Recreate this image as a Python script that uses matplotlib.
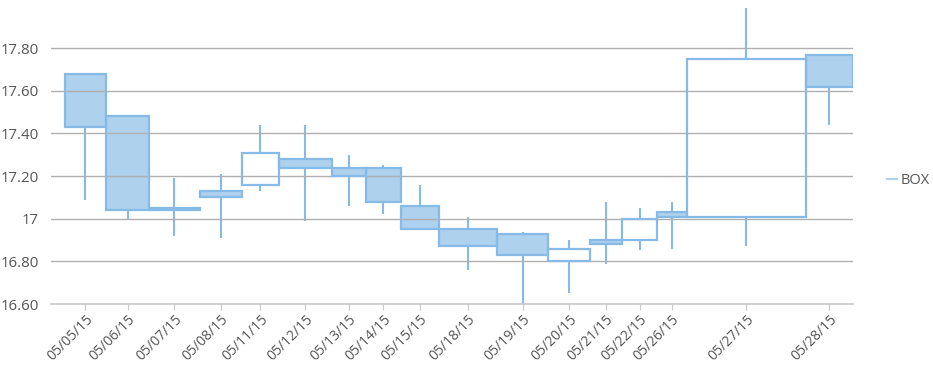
import matplotlib
matplotlib.use("Agg")
import matplotlib.pyplot as plt
from matplotlib.patches import Rectangle
from matplotlib.lines import Line2D
import numpy as np

plt.rcParams['font.family'] = ['Open Sans', 'DejaVu Sans']

dates = ['05/05/15', '05/06/15', '05/07/15', '05/08/15', '05/11/15', '05/12/15',
         '05/13/15', '05/14/15', '05/15/15', '05/18/15', '05/19/15', '05/20/15',
         '05/21/15', '05/22/15', '05/26/15', '05/27/15', '05/28/15']
opens = [17.68, 17.48, 17.05, 17.13, 17.16, 17.28, 17.24, 17.24, 17.06, 16.95,
         16.93, 16.80, 16.90, 16.90, 17.03, 17.01, 17.77]
highs = [17.68, 17.48, 17.19, 17.21, 17.44, 17.44, 17.30, 17.25, 17.16, 17.01,
         16.94, 16.90, 17.08, 17.05, 17.08, 17.99, 17.77]
lows = [17.09, 17.00, 16.92, 16.91, 17.13, 16.99, 17.06, 17.02, 16.95, 16.76,
        16.59, 16.65, 16.79, 16.855, 16.86, 16.87, 17.44]
closes = [17.43, 17.04, 17.04, 17.10, 17.31, 17.24, 17.20, 17.08, 16.95, 16.87,
          16.83, 16.86, 16.88, 17.00, 17.01, 17.75, 17.62]
# box widths (volume)
volumes = [41, 43.3, 50.7, 42, 37.4, 52.6, 34, 35.4, 38, 58, 51.6, 41.7, 32,
           35.3, 29.4, 119.3, 47.3]

edge = '#85bbe6'
fill = '#aed1ee'

fig = plt.figure(figsize=(9.33, 3.66), dpi=100)
ax = fig.add_axes([51 / 933, 1 - 304 / 366, 802 / 933, (304 - 5.6) / 366])

lefts = np.concatenate([[0], np.cumsum(volumes)[:-1]])
centers = lefts + np.array(volumes) / 2

for i in range(len(dates)):
    top = max(opens[i], closes[i])
    bottom = min(opens[i], closes[i])
    # wicks only outside the body
    if highs[i] > top:
        ax.plot([centers[i], centers[i]], [top, highs[i]], color=edge, lw=1.5,
                zorder=1.5, solid_capstyle='butt')
    if lows[i] < bottom:
        ax.plot([centers[i], centers[i]], [lows[i], bottom], color=edge, lw=1.5,
                zorder=1.5, solid_capstyle='butt')
    h = top - bottom
    if closes[i] < opens[i]:
        # fill under the gridlines so they show through
        ax.add_patch(Rectangle((lefts[i], bottom), volumes[i], h, facecolor=fill,
                               edgecolor='none', zorder=1))
    ax.add_patch(Rectangle((lefts[i], bottom), volumes[i], h, facecolor='none',
                           edgecolor=edge, lw=1.6, zorder=3))

ax.set_xlim(-14, sum(volumes))
ax.set_ylim(16.6, 18.0)
yt = [16.6, 16.8, 17.0, 17.2, 17.4, 17.6, 17.8]
ax.set_yticks(yt)
ax.set_yticklabels(['16.60', '16.80', '17', '17.20', '17.40', '17.60', '17.80'])
for v in yt[1:]:
    ax.axhline(v, color='#b0b0b0', lw=1, zorder=2)

ax.set_xticks(centers)
ax.set_xticklabels(dates, rotation=45, ha='right', rotation_mode='anchor')
ax.tick_params(axis='x', length=4, color='#c8c8c8', labelsize=10,
               labelcolor='#555555', pad=2)
ax.tick_params(axis='y', length=0, labelsize=10.8, labelcolor='#555555', pad=9)

for s in ['top', 'right', 'left']:
    ax.spines[s].set_visible(False)
ax.spines['bottom'].set_color('#c8c8c8')
ax.spines['bottom'].set_linewidth(1.2)

handle = Line2D([], [], color=fill, lw=1.5)
fig.legend([handle], ['BOX'], loc='center left', bbox_to_anchor=(874 / 933, 1 - 181 / 366),
           frameon=False, handlelength=0.65, handletextpad=0.3, fontsize=10.5,
           labelcolor='#555555')

fig.savefig('out.png', dpi=100)
